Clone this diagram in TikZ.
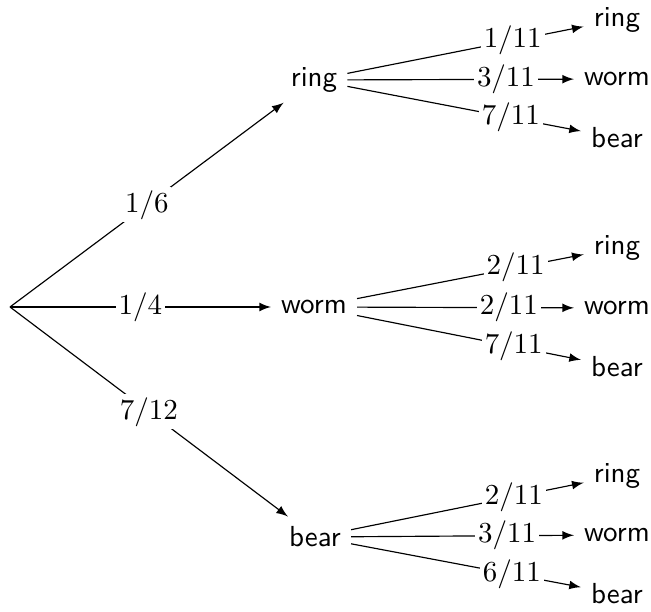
\documentclass[tikz,border=0pt]{standalone}
\usetikzlibrary{arrows.meta}
\begin{document}
\begin{tikzpicture}[x=0.345pt,y=-0.345pt,
  every node/.style={font=\sffamily},
  lab/.style={fill=white, inner sep=1pt, font=\normalfont},
  edge/.style={-latex}]
\useasboundingbox (0,0) rectangle (651,612);
\coordinate (r) at (10,307);
\node (A) at (314,80) {ring};
\node (B) at (314,307) {worm};
\node (C) at (315,537) {bear};
\node (A1) at (617,20) {ring};
\node (A2) at (617,79) {worm};
\node (A3) at (617,138) {bear};
\node (B1) at (617,248) {ring};
\node (B2) at (617,308) {worm};
\node (B3) at (617,367) {bear};
\node (C1) at (617,476) {ring};
\node (C2) at (617,535) {worm};
\node (C3) at (617,594) {bear};
\draw[edge] (r) -- node[lab]{$1/6$} (A);
\draw[edge] (r) -- node[lab]{$1/4$} (B);
\draw[edge] (r) -- node[lab]{$7/12$} (C);
\draw[edge] (A) -- node[lab,pos=0.7]{$1/11$} (A1);
\draw[edge] (A) -- node[lab,pos=0.7]{$3/11$} (A2);
\draw[edge] (A) -- node[lab,pos=0.7]{$7/11$} (A3);
\draw[edge] (B) -- node[lab,pos=0.7]{$2/11$} (B1);
\draw[edge] (B) -- node[lab,pos=0.7]{$2/11$} (B2);
\draw[edge] (B) -- node[lab,pos=0.7]{$7/11$} (B3);
\draw[edge] (C) -- node[lab,pos=0.7]{$2/11$} (C1);
\draw[edge] (C) -- node[lab,pos=0.7]{$3/11$} (C2);
\draw[edge] (C) -- node[lab,pos=0.7]{$6/11$} (C3);
\end{tikzpicture}
\end{document}
